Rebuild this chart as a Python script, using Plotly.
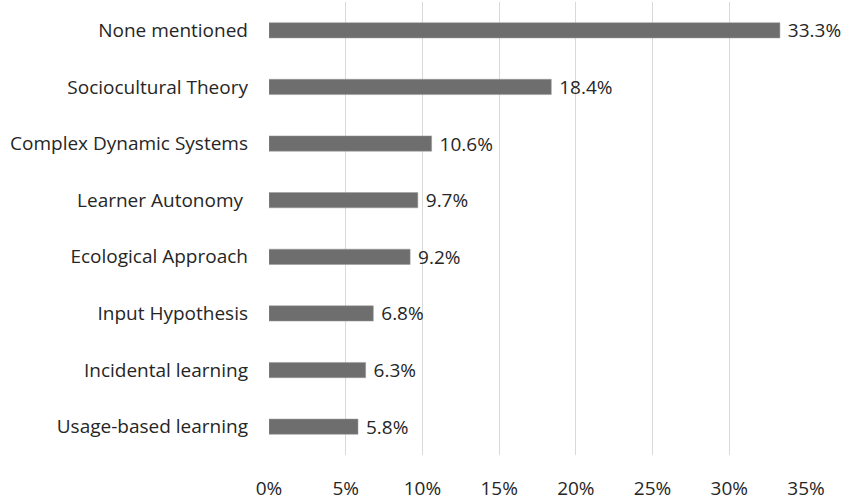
import plotly.graph_objects as go

categories = [
    "None mentioned",
    "Sociocultural Theory",
    "Complex Dynamic Systems",
    "Learner Autonomy\u00a0",
    "Ecological Approach",
    "Input Hypothesis",
    "Incidental learning",
    "Usage-based learning",
]
percentages = [33.3, 18.4, 10.6, 9.7, 9.2, 6.8, 6.3, 5.8]
x_ticks = [0, 5, 10, 15, 20, 25, 30, 35]
x_tick_labels = [f"{t}%" for t in x_ticks]

font_family = "Open Sans, Segoe UI, DejaVu Sans, sans-serif"
text_color = "#262626"

fig = go.Figure()

fig.add_trace(
    go.Bar(
        x=percentages,
        y=categories,
        orientation="h",
        width=0.27,
        marker=dict(color="#6e6e6e", line=dict(color="#9a9a9a", width=0.5)),
        text=[f"\u00a0{v}%" for v in percentages],
        textposition="outside",
        constraintext="none",
        textfont=dict(size=19, color=text_color, family=font_family),
        cliponaxis=False,
        hoverinfo="skip",
    )
)

fig.update_layout(
    width=847,
    height=502,
    margin=dict(l=269, r=41, t=2, b=47),
    paper_bgcolor="white",
    plot_bgcolor="white",
    showlegend=False,
    font=dict(family=font_family, size=19, color=text_color),
    xaxis=dict(
        range=[0, 35],
        tickvals=x_ticks,
        ticktext=x_tick_labels,
        showgrid=True,
        gridcolor="#d9d9d9",
        gridwidth=1,
        zeroline=False,
        showline=False,
        ticks="outside",
        ticklen=16,
        tickcolor="white",
        tickfont=dict(size=19),
        automargin=False,
    ),
    yaxis=dict(
        autorange="reversed",
        showgrid=False,
        zeroline=False,
        showline=False,
        ticks="",
        ticklabelstandoff=20,
        tickfont=dict(size=19),
        automargin=False,
    ),
)

# the default page has an 8px body margin, drop it so the figure sits at 0,0
fig.write_html(
    "out.html",
    config={"displayModeBar": False},
    post_script="document.body.style.margin='0';",
)
